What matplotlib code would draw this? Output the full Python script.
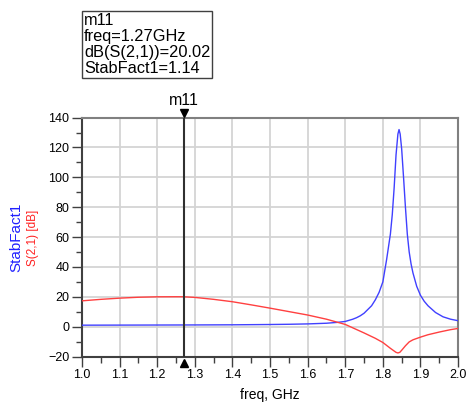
import numpy as np
import matplotlib
matplotlib.use('Agg')
import matplotlib.pyplot as plt
import matplotlib.transforms as mtransforms
from matplotlib.ticker import MultipleLocator

plt.rcParams['font.family'] = ['Liberation Sans', 'DejaVu Sans']

# stability factor vs frequency
freq_k = [1.0, 1.1, 1.2, 1.27, 1.3, 1.4, 1.5, 1.55, 1.6, 1.65, 1.68, 1.7, 1.72, 1.73,
          1.74, 1.75, 1.76, 1.77, 1.78, 1.79, 1.80, 1.81, 1.82, 1.825, 1.83, 1.835,
          1.84, 1.843, 1.846, 1.85, 1.855, 1.86, 1.865, 1.87, 1.875, 1.88, 1.89, 1.90,
          1.91, 1.92, 1.94, 1.96, 1.98, 2.0]
stabfact = [1.0, 1.05, 1.1, 1.14, 1.16, 1.25, 1.45, 1.6, 1.85, 2.3, 2.9, 3.5, 5.0, 6.0,
            7.3, 9.0, 11.5, 14.0, 18.0, 23.0, 30.0, 45.0, 62.0, 75.0, 93.0, 115.0,
            129.0, 132.0, 129.0, 119.0, 100.0, 80.0, 62.0, 50.0, 42.0, 36.0, 27.0, 21.0,
            17.0, 14.0, 9.5, 6.6, 5.0, 4.0]

# dB(S(2,1)) vs frequency
freq_s = [1.0, 1.05, 1.1, 1.15, 1.2, 1.25, 1.27, 1.3, 1.35, 1.4, 1.45, 1.5, 1.55, 1.6,
          1.65, 1.7, 1.75, 1.78, 1.8, 1.82, 1.83, 1.835, 1.84, 1.845, 1.85, 1.86, 1.87,
          1.88, 1.9, 1.92, 1.95, 1.98, 2.0]
s21_db = [17.3, 18.3, 19.1, 19.7, 20.0, 20.05, 20.02, 19.6, 18.3, 16.7, 14.6, 12.4, 10.1, 7.8,
          5.0, 1.5, -4.2, -7.8, -10.6, -14.5, -16.3, -17.2, -17.6, -17.2, -15.8, -12.8, -10.2,
          -8.8, -7.0, -5.4, -3.6, -2.0, -1.2]

m_freq = 1.27
m_s21 = 20.02
m_k = 1.14

fig = plt.figure(figsize=(4.66, 4.07), dpi=100)
ax = fig.add_axes([0.176, 0.124, 0.807, 0.587])

ax.plot(freq_k, stabfact, color='#4040ff', lw=1.0, zorder=3)
ax.plot(freq_s, s21_db, color='#ff4040', lw=1.0, zorder=3)

ax.set_xlim(1.0, 2.0)
ax.set_ylim(-20, 140)
ax.xaxis.set_major_locator(MultipleLocator(0.1))
ax.xaxis.set_minor_locator(MultipleLocator(0.05))
ax.yaxis.set_major_locator(MultipleLocator(20))
ax.yaxis.set_minor_locator(MultipleLocator(10))
ax.set_xticklabels([f'{v:.1f}' for v in ax.get_xticks()])
ax.grid(True, which='major', color='#d4d4d4', lw=1.3, zorder=0)
ax.tick_params(which='major', direction='out', length=7, width=1, color='#404040',
               labelsize=9, pad=2)
ax.tick_params(which='minor', direction='out', length=4, width=1, color='#404040')
for s in ax.spines.values():
    s.set_color('#808080')
    s.set_linewidth(1.5)
ax.spines['left'].set_color('#404040')
ax.spines['bottom'].set_color('#404040')

ax.set_xlabel('freq, GHz', fontsize=10, labelpad=5)

# y labels, one per trace
fig.text(0.036, 0.4165, 'StabFact1', color='#2020ff', fontsize=11, rotation=90,
         ha='center', va='center')
fig.text(0.071, 0.4165, 'S(2,1) [dB]', color='#ff2020', fontsize=8.5, rotation=90,
         ha='center', va='center')

# marker m11
xt = ax.get_xaxis_transform()
ax.axvline(m_freq, color='#303030', lw=1.5, zorder=4)
ax.plot([m_freq], [1.0], marker='v', color='black', markersize=6, clip_on=False, zorder=5,
        transform=mtransforms.offset_copy(xt, fig=fig, x=0, y=3.5, units='points'))
ax.plot([m_freq], [0.0], marker='^', color='black', markersize=6, clip_on=False, zorder=5,
        transform=mtransforms.offset_copy(xt, fig=fig, x=0, y=-4.5, units='points'))
ax.text(m_freq, 1.0, 'm11', fontsize=11.5, ha='center', va='bottom',
        transform=mtransforms.offset_copy(xt, fig=fig, x=0, y=7, units='points'))

fig.text(0.180, 0.968,
         f'm11\nfreq={m_freq:.2f}GHz\ndB(S(2,1))={m_s21:.2f}\nStabFact1={m_k:.2f}',
         ha='left', va='top', fontsize=11.8, linespacing=1.08,
         bbox=dict(boxstyle='square,pad=0.12', fc='white', ec='#404040', lw=1))

fig.savefig('out.png', dpi=100)
